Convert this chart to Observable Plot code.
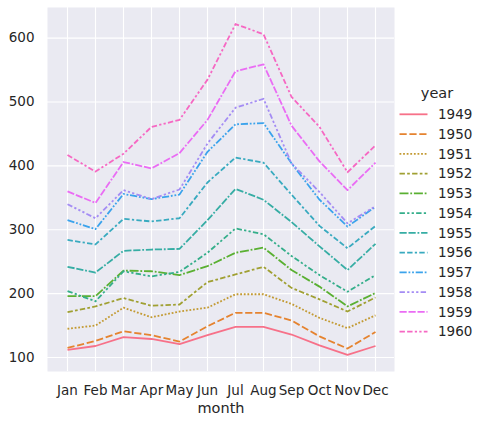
<!DOCTYPE html>
<html>
<head>
<meta charset="utf-8">
<script src="https://cdn.jsdelivr.net/npm/d3@7"></script>
<script src="https://cdn.jsdelivr.net/npm/@observablehq/plot@0.6"></script>
<style>
  body { margin: 0; background: #fff; }
  #wrap { position: relative; width: 484px; height: 425px; font-family: "DejaVu Sans", sans-serif; }
  #wrap svg { position: absolute; left: 0; top: 0; }
</style>
</head>
<body>
<div id="wrap"></div>
<script>
const months = ["Jan","Feb","Mar","Apr","May","Jun","Jul","Aug","Sep","Oct","Nov","Dec"];
const years = [1949,1950,1951,1952,1953,1954,1955,1956,1957,1958,1959,1960];
const yTicks = [100,200,300,400,500,600];

const p1949 = [112,118,132,129,121,135,148,148,136,119,104,118];
const p1950 = [115,126,141,135,125,149,170,170,158,133,114,140];
const p1951 = [145,150,178,163,172,178,199,199,184,162,146,166];
const p1952 = [171,180,193,181,183,218,230,242,209,191,172,194];
const p1953 = [196,196,236,235,229,243,264,272,237,211,180,201];
const p1954 = [204,188,235,227,234,264,302,293,259,229,203,229];
const p1955 = [242,233,267,269,270,315,364,347,312,274,237,278];
const p1956 = [284,277,317,313,318,374,413,405,355,306,271,306];
const p1957 = [315,301,356,348,355,422,465,467,404,347,305,336];
const p1958 = [340,318,362,348,363,435,491,505,404,359,310,337];
const p1959 = [360,342,406,396,420,472,548,559,463,407,362,405];
const p1960 = [417,391,419,461,472,535,622,606,508,461,390,432];
const series = [p1949,p1950,p1951,p1952,p1953,p1954,p1955,p1956,p1957,p1958,p1959,p1960];

const colors = ["#f77189","#e5832f","#c39a32","#a0a032","#5ab032","#34ae8a","#36ada4","#38aabf","#3ba3ec","#a48cf4","#ea6cf4","#f668c3"];
const lw = 1.8;
const dashUnits = [
  [], [4,1.5], [1,1], [3,1.25,1.5,1.25], [5,1,1,1],
  [3,1.25,1.25,1.25,1.25,1.25], [4,1,4,1,1,1], [3,1.25,3,1.25,1.25,1.25],
  [4,1,1,1,1,1], [3,1.25,1.25,1.25,1.25,1.25,1.25,1.25], [4,1,4,1,4,1,1,1],
  [3,1.25,3,1.25,1.25,1.25,1.25,1.25]
];
const dashes = dashUnits.map(d => d.length ? d.map(v => (v*lw).toFixed(2)).join(",") : null);

const rows = [];
years.forEach((yr, i) => series[i].forEach((v, j) => rows.push({year: yr, month: months[j], passengers: v})));

const textColor = "#262626";
const W = 484, H = 425;
const tickFont = 13.5, labelFont = 14.5;

const lineMarks = years.map((yr, i) => Plot.line(rows.filter(r => r.year === yr), {
  x: "month", y: "passengers", stroke: colors[i], strokeWidth: lw,
  strokeDasharray: dashes[i], strokeLinecap: "butt", strokeLinejoin: "round"
}));

const chart = Plot.plot({
  width: W, height: H,
  marginLeft: 47, marginRight: 90, marginTop: 7, marginBottom: 54,
  style: { fontFamily: "'DejaVu Sans', sans-serif", fontSize: tickFont + "px", color: textColor, background: "transparent" },
  x: { type: "point", domain: months, padding: 0.55, label: null },
  y: { domain: [78.1, 647.9], ticks: yTicks, label: null },
  marks: [
    Plot.frame({ fill: "#eaeaf2", stroke: null }),
    Plot.gridX(months, { stroke: "#fff", strokeOpacity: 1, strokeWidth: 1.1 }),
    Plot.gridY(yTicks, { stroke: "#fff", strokeOpacity: 1, strokeWidth: 1.1 }),
    ...lineMarks,
    Plot.axisX(months, { tickSize: 0, tickPadding: 14, fontSize: tickFont, fill: textColor, label: null }),
    Plot.axisY(yTicks, { tickSize: 0, tickPadding: 13, fontSize: tickFont, fill: textColor, label: null }),
    Plot.text(["month"], { frameAnchor: "bottom", dy: 41, fontSize: labelFont, fill: textColor })
  ]
});
document.getElementById("wrap").appendChild(chart);

// legend
const leg = d3.select("#wrap").append("svg").attr("width", W).attr("height", H)
  .style("pointer-events", "none").style("font-family", "'DejaVu Sans', sans-serif");
leg.append("text").attr("x", 437).attr("y", 93).attr("dy", "0.35em")
  .attr("text-anchor", "middle").attr("font-size", labelFont).attr("fill", textColor).text("year");
const y0 = 114.3, step = 19.76;
years.forEach((yr, i) => {
  const y = y0 + i * step;
  leg.append("line").attr("x1", 399.5).attr("x2", 427.5).attr("y1", y).attr("y2", y)
    .attr("stroke", colors[i]).attr("stroke-width", lw)
    .attr("stroke-dasharray", dashes[i]);
  leg.append("text").attr("x", 438).attr("y", y).attr("dy", "0.35em")
    .attr("font-size", tickFont).attr("fill", textColor).text(yr);
});
</script>
</body>
</html>
